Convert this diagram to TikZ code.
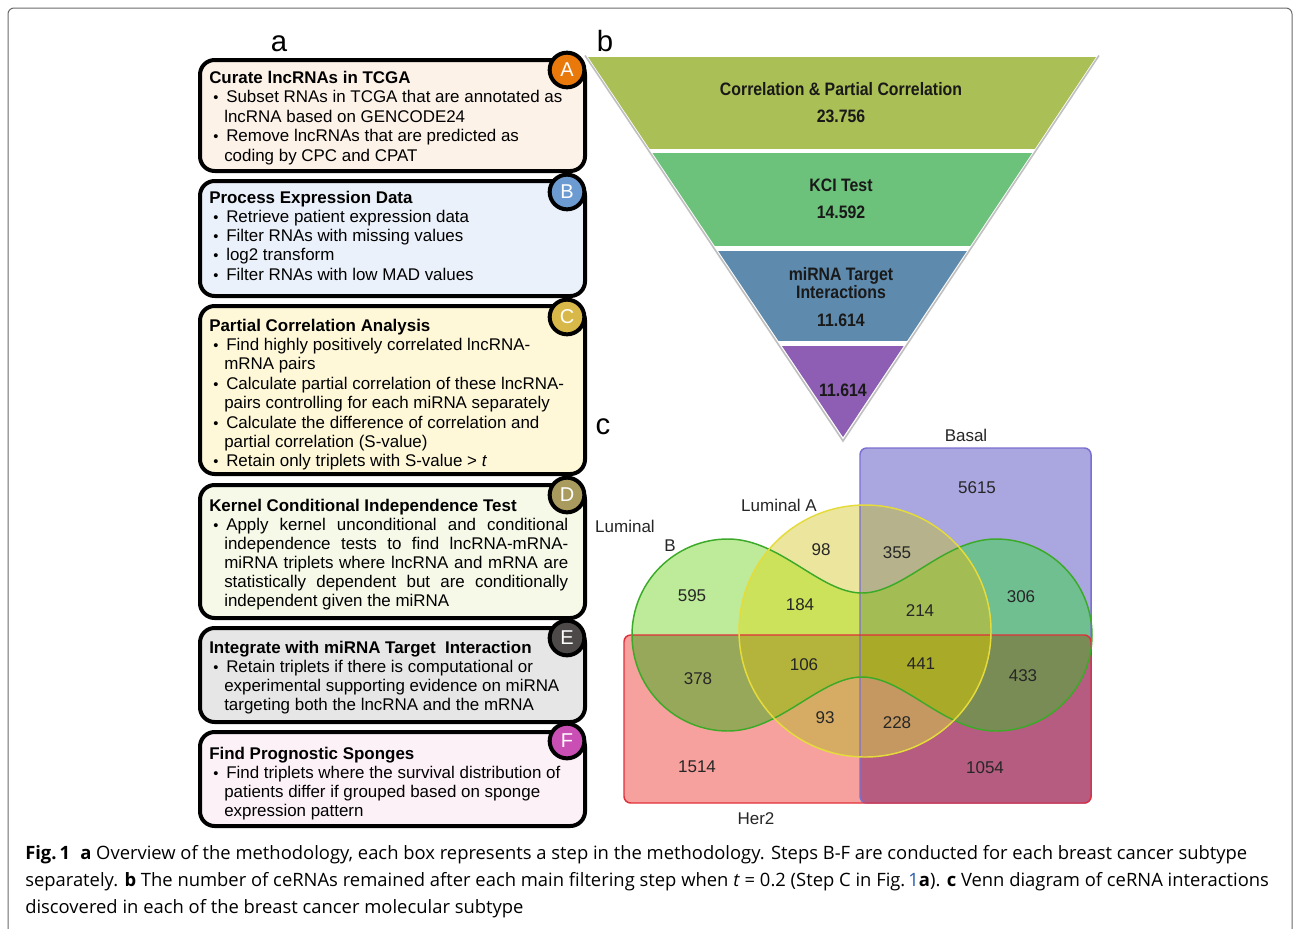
\documentclass[tikz,border=0pt]{standalone}
\usepackage{fontspec}
\setmainfont{Liberation Sans}
\newfontfamily\capfont{Open Sans}
\newfontfamily\funnelfont[FakeStretch=0.88]{Liberation Sans}
\definecolor{framegray}{HTML}{6A6A6A}
\definecolor{fillA}{HTML}{FDF2E8}
\definecolor{fillB}{HTML}{EBF1FA}
\definecolor{fillC}{HTML}{FEF8D9}
\definecolor{fillD}{HTML}{F6F8E8}
\definecolor{fillE}{HTML}{E6E6E6}
\definecolor{fillF}{HTML}{FCF1F7}
\definecolor{badgeA}{HTML}{E8790A}
\definecolor{badgeB}{HTML}{6C9BD2}
\definecolor{badgeC}{HTML}{D9B84A}
\definecolor{badgeD}{HTML}{A99B5E}
\definecolor{badgeE}{HTML}{4D4948}
\definecolor{badgeF}{HTML}{C94FB4}
\definecolor{fun1}{HTML}{AABF55}
\definecolor{fun2}{HTML}{6CC27A}
\definecolor{fun3}{HTML}{5E8AAD}
\definecolor{fun4}{HTML}{8D5EB3}
\definecolor{cB}{HTML}{A9A6E0}
\definecolor{cH}{HTML}{F7A19E}
\definecolor{cBH}{HTML}{B55C80}
\definecolor{cLB}{HTML}{BDEB9A}
\definecolor{cLBB}{HTML}{6FBF91}
\definecolor{cLBH}{HTML}{98A85A}
\definecolor{cLBHB}{HTML}{7A8C56}
\definecolor{cLA}{HTML}{EBE59E}
\definecolor{cLAB}{HTML}{B6B28C}
\definecolor{cLAH}{HTML}{D6AC64}
\definecolor{cLAHB}{HTML}{C49860}
\definecolor{cLALB}{HTML}{CCE25A}
\definecolor{cLALBB}{HTML}{A4BC54}
\definecolor{cLALBH}{HTML}{B4B43C}
\definecolor{cALL}{HTML}{A8AA28}
\definecolor{bBasal}{HTML}{7B6FD0}
\definecolor{bHer}{HTML}{E0303A}
\definecolor{bLB}{HTML}{3CAA28}
\definecolor{bLA}{HTML}{E5DC3C}
\definecolor{linkblue}{HTML}{2A5DB0}
\def\vBasal{(860,448) [rounded corners=5pt] rectangle (1091,803)}
\def\vHer{(624,635) [rounded corners=5pt] rectangle (1091,803)}
\def\vLB{(728,539) .. controls (780,539) and (820,593) .. (862,593) .. controls (904,593) and (944,539) .. (996,539) arc[start angle=-90, end angle=90, radius=96] .. controls (944,731) and (904,677) .. (862,677) .. controls (820,677) and (780,731) .. (728,731) arc[start angle=90, end angle=270, radius=96] -- cycle}
\def\vLA{(865,631) circle[radius=126]}
\newcommand\mktitle[3]{\node[ttl] (#1) at (209,#2) {#3};}
\newcommand\mkbul[3]{\node[bul] (#1b) at (213,#2) {\textbullet}; \node[txt] (#1) at (226,#2) {#3};}
\newcommand\mkcont[3]{\node[txt] (#1) at (224,#2) {#3};}
\begin{document}
\begin{tikzpicture}[x=0.75pt,y=-0.75pt,
  stepframe/.style={draw=black, line width=3pt, rounded corners=11pt},
  badge/.style={circle, draw=black, line width=3pt, minimum size=26pt, inner sep=0pt, text=white, font=\fontsize{15}{15}\selectfont},
  ttl/.style={anchor=base west, inner sep=0pt, font=\fontsize{12.7}{14}\selectfont\bfseries},
  txt/.style={anchor=base west, inner sep=0pt, font=\fontsize{12.7}{14}\selectfont},
  bul/.style={anchor=base west, inner sep=0pt, font=\fontsize{11}{14}\selectfont},
  funtxt/.style={anchor=base, inner sep=0pt, text=black!90, font=\funnelfont\bfseries\fontsize{13.5}{14}\selectfont},
  venntxt/.style={anchor=base, inner sep=0pt, text=black!85, font=\fontsize{12.75}{14}\selectfont},
  panel/.style={anchor=base, inner sep=0pt, font=\fontsize{22}{22}\selectfont},
  captxt/.style={anchor=base west, inner sep=0pt, font=\capfont\fontsize{13.8}{16}\selectfont}]
\useasboundingbox (0,0) rectangle (1294,928);
\fill[white] (0,0) rectangle (1294,928);
\draw[framegray, line width=0.75pt, rounded corners=4.5pt] (8,8) rectangle (1292,945);

% panel labels
\node[panel] (pa) at (279,51) {a};
\node[panel] (pb) at (605,51) {b};
\node[panel] (pc) at (603,434) {c};

% ---------- boxes ----------
\draw[stepframe, fill=fillA] (200,60) rectangle (585,171);
\draw[stepframe, fill=fillB] (200,181) rectangle (585,296);
\draw[stepframe, fill=fillC] (200,306) rectangle (585,474);
\draw[stepframe, fill=fillD] (200,485) rectangle (585,618);
\draw[stepframe, fill=fillE] (200,628) rectangle (585,722);
\draw[stepframe, fill=fillF] (200,732) rectangle (585,826);

\node[badge, fill=badgeA] (bdA) at (567,70) {A};
\node[badge, fill=badgeB] (bdB) at (567,192) {B};
\node[badge, fill=badgeC] (bdC) at (567,317) {C};
\node[badge, fill=badgeD] (bdD) at (567,495) {D};
\node[badge, fill=badgeE] (bdE) at (567,638) {E};
\node[badge, fill=badgeF] (bdF) at (567,741) {F};

\mktitle{tA}{83}{Curate lncRNAs in TCGA}
\mkbul{a1}{102.5}{Subset RNAs in TCGA that are annotated as}
\mkcont{a2}{122}{lncRNA based on GENCODE24}
\mkbul{a3}{141.5}{Remove lncRNAs that are predicted as}
\mkcont{a4}{161}{coding by CPC and CPAT}

\mktitle{tB}{203}{Process Expression Data}
\mkbul{b1}{222.3}{Retrieve patient expression data}
\mkbul{b2}{241.6}{Filter RNAs with missing values}
\mkbul{b3}{260.9}{log2 transform}
\mkbul{b4}{280.2}{Filter RNAs with low MAD values}

\mktitle{tC}{331}{Partial Correlation Analysis}
\mkbul{c1}{350.4}{Find highly positively correlated lncRNA-}
\mkcont{c2}{369.8}{mRNA pairs}
\mkbul{c3}{389.2}{Calculate partial correlation of these lncRNA-}
\mkcont{c4}{408.6}{pairs controlling for each miRNA separately}
\mkbul{c5}{428}{Calculate the difference of correlation and}
\mkcont{c6}{447.4}{partial correlation (S-value)}
\mkbul{c7}{466.8}{Retain only triplets with S-value > \textit{t}}

\mktitle{tD}{511}{Kernel Conditional Independence Test}
\mkbul{d1}{530}{\makebox[256.5pt][s]{Apply kernel unconditional and conditional}}
\mkcont{d2}{549.2}{\makebox[258pt][s]{independence tests to find lncRNA-mRNA-}}
\mkcont{d3}{568.4}{\makebox[258pt][s]{miRNA triplets where lncRNA and mRNA are}}
\mkcont{d4}{587.6}{\makebox[258pt][s]{statistically dependent but are conditionally}}
\mkcont{d5}{606.8}{independent given the miRNA}

\mktitle{tE}{653}{Integrate with miRNA Target\ \ Interaction}
\mkbul{e1}{672}{Retain triplets if there is computational or}
\mkcont{e2}{691}{experimental supporting evidence on miRNA}
\mkcont{e3}{710}{targeting both the lncRNA and the mRNA}

\mktitle{tF}{759}{Find Prognostic Sponges}
\mkbul{f1}{778}{Find triplets where the survival distribution of}
\mkcont{f2}{797}{patients differ if grouped based on sponge}
\mkcont{f3}{816}{expression pattern}

% ---------- funnel ----------
\coordinate (fTL) at (588,57);
\coordinate (fTR) at (1096,57);
\coordinate (fAP) at (843,437);
\draw[black!25, line width=1.2pt] (585,55.5) -- (843,441) -- (1099,55.5);
\begin{scope}
\clip (fTL) -- (fTR) -- (fAP) -- cycle;
\fill[fun1] (580,57) rectangle (1100,149);
\fill[fun2] (580,152.5) rectangle (1100,246);
\fill[fun3] (580,250.5) rectangle (1100,341);
\fill[fun4] (580,345.5) rectangle (1100,440);
\end{scope}
\node[funtxt] (f1a) at (841,95.5) {Correlation \& Partial Correlation};
\node[funtxt] (f1b) at (841,122.5) {23.756};
\node[funtxt] (f2a) at (841,191.5) {KCI Test};
\node[funtxt] (f2b) at (841,218.5) {14.592};
\node[funtxt] (f3a) at (841,280) {miRNA Target};
\node[funtxt] (f3b) at (841,298.5) {Interactions};
\node[funtxt] (f3c) at (841,326.5) {11.614};
\node[funtxt] (f4a) at (843,396.5) {11.614};

% ---------- venn ----------
\fill[cB] \vBasal;
\fill[cH] \vHer;
\begin{scope}\clip \vBasal; \fill[cBH] \vHer; \end{scope}
\fill[cLB] \vLB;
\begin{scope}\clip \vBasal; \fill[cLBB] \vLB; \end{scope}
\begin{scope}\clip \vHer; \fill[cLBH] \vLB; \end{scope}
\begin{scope}\clip \vHer; \clip \vBasal; \fill[cLBHB] \vLB; \end{scope}
\fill[cLA] \vLA;
\begin{scope}\clip \vBasal; \fill[cLAB] \vLA; \end{scope}
\begin{scope}\clip \vHer; \fill[cLAH] \vLA; \end{scope}
\begin{scope}\clip \vHer; \clip \vBasal; \fill[cLAHB] \vLA; \end{scope}
\begin{scope}\clip \vLB; \fill[cLALB] \vLA; \end{scope}
\begin{scope}\clip \vLB; \clip \vBasal; \fill[cLALBB] \vLA; \end{scope}
\begin{scope}\clip \vLB; \clip \vHer; \fill[cLALBH] \vLA; \end{scope}
\begin{scope}\clip \vLB; \clip \vHer; \clip \vBasal; \fill[cALL] \vLA; \end{scope}
\draw[bBasal, line width=1.1pt] \vBasal;
\draw[bHer, line width=1.1pt] \vHer;
\draw[bLB, line width=1.1pt] \vLB;
\draw[bLA, line width=1.1pt] \vLA;

\node[venntxt] (n5615) at (977,493) {5615};
\node[venntxt] (n98) at (821,555) {98};
\node[venntxt] (n355) at (897,558) {355};
\node[venntxt] (n595) at (692,601) {595};
\node[venntxt] (n184) at (800,610) {184};
\node[venntxt] (n214) at (920,616) {214};
\node[venntxt] (n306) at (1021,602) {306};
\node[venntxt] (n378) at (698,684) {378};
\node[venntxt] (n106) at (804,670) {106};
\node[venntxt] (n441) at (921,669) {441};
\node[venntxt] (n433) at (1023,681) {433};
\node[venntxt] (n93) at (825,723) {93};
\node[venntxt] (n228) at (897,728) {228};
\node[venntxt] (n1514) at (697,772) {1514};
\node[venntxt] (n1054) at (985,773) {1054};

\node[venntxt] (lBasal) at (966,441) {Basal};
\node[venntxt] (lLA) at (779,511) {Luminal A};
\node[venntxt] (lLB1) at (625,532) {Luminal};
\node[venntxt] (lLB2) at (670,551) {B};
\node[venntxt] (lHer) at (756,824) {Her2};

% ---------- caption ----------
\node[captxt] (cap1) at (25,859) {\textbf{Fig.\,1}\hspace{0.55em}\textbf{a} Overview of the methodology, each box represents a step in the methodology. Steps B-F are conducted for each breast cancer subtype};
\node[captxt] (cap2) at (25,886) {separately. \textbf{b} The number of ceRNAs remained after each main filtering step when \textit{t} = 0.2 (Step C in Fig.\,\textcolor{linkblue}{1}\textbf{a}). \textbf{c} Venn diagram of ceRNA interactions};
\node[captxt] (cap3) at (25,913) {discovered in each of the breast cancer molecular subtype};
\end{tikzpicture}
\end{document}
